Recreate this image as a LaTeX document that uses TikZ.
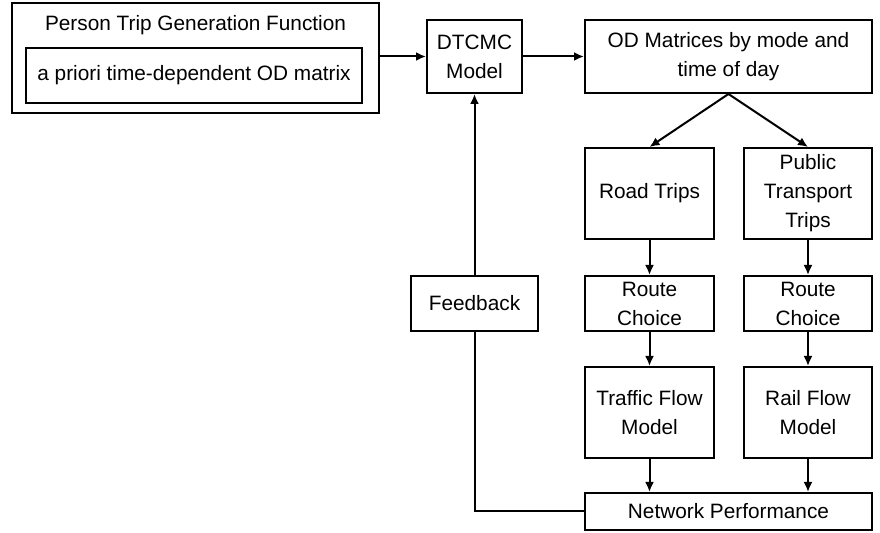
\documentclass[tikz,border=0pt]{standalone}
\usepackage{fontspec}
\setmainfont{Liberation Sans}
\usetikzlibrary{arrows.meta}

\begin{document}
\begin{tikzpicture}[x=0.5pt, y=-0.5pt,
    box/.style={draw, line width=1pt, align=center, inner sep=1pt,
                font=\fontsize{10.4pt}{14.5pt}\selectfont},
    arr/.style={line width=1pt, -{Latex[length=5pt, width=4.5pt]}},
    link/.style={line width=1pt}]

    % Rahmen
    \useasboundingbox (0,0) rectangle (880,533);

    % --- Eingang ---
    \node[box, minimum width=183.5pt, minimum height=55pt] (ptgf) at (195.5, 58) {};
    \node[anchor=base, font=\fontsize{10.4pt}{14.5pt}\selectfont] (ptgft) at (195.5, 31) {Person Trip Generation Function};
    \node[box, minimum width=168pt, minimum height=27.5pt] (apriori) at (194, 75.5) {a priori time-dependent OD matrix};

    % --- obere Reihe ---
    \node[box, minimum width=47.5pt, minimum height=36.5pt] (dtcmc) at (474.5, 56.5) {DTCMC\\Model};
    \node[box, minimum width=143.5pt, minimum height=36.5pt] (odm) at (728.5, 56.5) {OD Matrices by mode and\\time of day};

    % --- linke Spalte ---
    \node[box, minimum width=64.5pt, minimum height=45.5pt] (road) at (649.5, 193.5) {Road Trips};
    \node[box, minimum width=64.5pt, minimum height=27.5pt] (rcroad) at (649.5, 303.5) {Route\\Choice};
    \node[box, minimum width=64.5pt, minimum height=45.5pt] (tfm) at (649.5, 412.5) {Traffic Flow\\Model};

    % --- rechte Spalte ---
    \node[box, minimum width=64pt, minimum height=45.5pt] (pt) at (808, 193.5) {Public\\Transport\\Trips};
    \node[box, minimum width=64pt, minimum height=27.5pt] (rcpt) at (808, 303.5) {Route\\Choice};
    \node[box, minimum width=64pt, minimum height=45.5pt] (rfm) at (808, 412.5) {Rail Flow\\Model};

    % --- unten / Rueckkopplung ---
    \node[box, minimum width=143.5pt, minimum height=18.5pt] (netp) at (728.5, 511.5) {Network Performance};
    \node[box, minimum width=63.5pt, minimum height=27.5pt] (fb) at (474.5, 303.5) {Feedback};

    % Pfeile
    \draw[arr] (ptgf.east |- dtcmc.west) -- (dtcmc.west);
    \draw[arr] (dtcmc) -- (odm);
    \draw[arr] (odm.south) -- (road.north);
    \draw[arr] (odm.south) -- (pt.north);
    \foreach \a/\b in {road/rcroad, rcroad/tfm, pt/rcpt, rcpt/rfm}
        \draw[arr] (\a) -- (\b);
    \draw[arr] (tfm.south) -- (tfm.south |- netp.north);
    \draw[arr] (rfm.south) -- (rfm.south |- netp.north);
    \draw[link] (netp.west) -| (fb.south);
    \draw[arr] (fb.north) -- (dtcmc.south);

\end{tikzpicture}
\end{document}
